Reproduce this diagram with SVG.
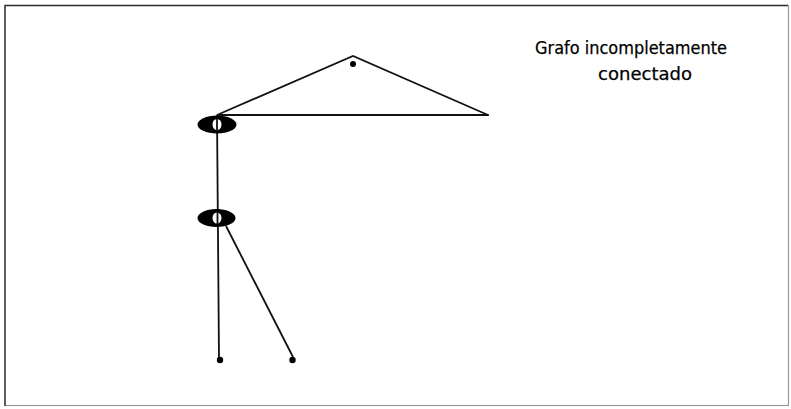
<svg xmlns="http://www.w3.org/2000/svg" width="791" height="409" viewBox="0 0 791 409">
<style>
.edge{stroke:#111;stroke-width:1.8;fill:none}
.dot{fill:#000}
.lbl{font-family:"DejaVu Sans","Liberation Sans",sans-serif;font-size:17.5px;fill:#000;stroke:#000;stroke-width:0.25;text-anchor:middle}
</style>
<rect x="0" y="0" width="791" height="409" fill="#fff"/>
<rect x="5" y="5.5" width="783.5" height="400" fill="none" stroke="#999" stroke-width="1.2"/>
<path d="M5 406 V5.5 H788" fill="none" stroke="#333" stroke-width="1.4"/>
<g id="connectors">
<path class="edge" d="M217 115 L353 56 L488 115 Z"/>
<line class="edge" x1="217" y1="115" x2="219" y2="358"/>
<line class="edge" x1="226" y1="226" x2="293" y2="357"/>
</g>
<g id="n_top"><circle class="dot" cx="353" cy="64" r="3"/></g>
<g id="n_right"><circle class="dot" cx="488" cy="115" r="1"/></g>
<g id="n_a">
<ellipse cx="217" cy="124.5" rx="19.5" ry="9" fill="#000"/>
<ellipse cx="217" cy="124.5" rx="4.5" ry="5.5" fill="#fff"/>
<line class="edge" x1="217" y1="118" x2="217" y2="131"/>
</g>
<g id="n_b">
<ellipse cx="216.5" cy="218" rx="19" ry="9" fill="#000"/>
<ellipse cx="217" cy="218" rx="4.5" ry="5.5" fill="#fff"/>
<line class="edge" x1="217.5" y1="212" x2="217.5" y2="224"/>
</g>
<g id="n_c"><circle class="dot" cx="220" cy="360" r="3.2"/></g>
<g id="n_d"><circle class="dot" cx="292.5" cy="360" r="3.2"/></g>
<g id="label">
<text class="lbl" x="631" y="54" textLength="192" lengthAdjust="spacingAndGlyphs">Grafo incompletamente</text>
<text class="lbl" x="645" y="80" textLength="94" lengthAdjust="spacingAndGlyphs">conectado</text>
</g>
</svg>
